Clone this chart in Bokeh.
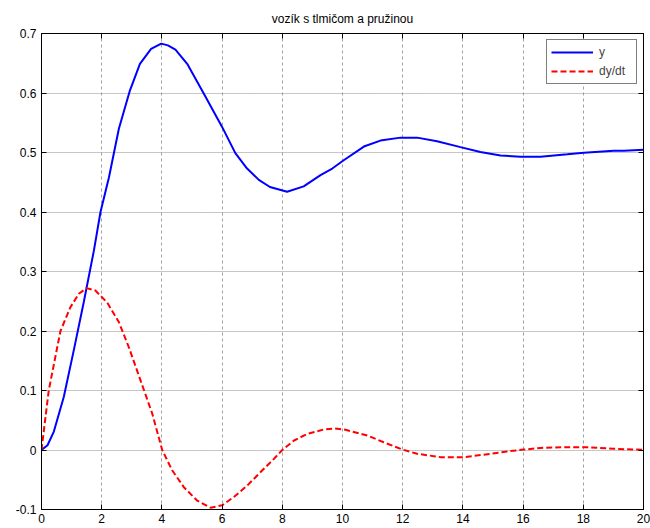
from bokeh.plotting import figure
from bokeh.models import LinearAxis, FixedTicker, Legend, LegendItem, Range1d
from bokeh.embed import file_html
from bokeh.resources import INLINE

# --- data ---
t_y = [0, 0.2, 0.41, 0.74, 1.07, 1.41, 1.74, 1.96, 2.24, 2.57, 2.93, 3.27, 3.64, 3.98,
       4.20, 4.45, 4.84, 5.39, 6.0, 6.44, 6.83, 7.22, 7.59, 8.16, 8.71, 9.27, 9.66,
       10.04, 10.71, 11.26, 11.93, 12.48, 13.14, 13.92, 14.58, 15.25, 15.91, 16.58,
       17.47, 18.02, 19.01, 19.35, 20.0]
y_vals = [0, 0.008, 0.031, 0.089, 0.167, 0.25, 0.335, 0.40, 0.458, 0.54, 0.603, 0.649,
          0.674, 0.683, 0.680, 0.673, 0.649, 0.599, 0.543, 0.499, 0.473, 0.454, 0.442,
          0.434, 0.443, 0.462, 0.473, 0.487, 0.510, 0.520, 0.525, 0.525, 0.519, 0.509,
          0.501, 0.495, 0.493, 0.493, 0.497, 0.4995, 0.503, 0.503, 0.5045]

t_dy = [0, 0.24, 0.63, 0.96, 1.24, 1.50, 1.79, 2.18, 2.57, 2.90, 3.29, 3.68, 4.01, 4.34,
        4.73, 5.17, 5.61, 6.0, 6.39, 6.83, 7.28, 7.72, 8.0, 8.39, 8.83, 9.38, 9.75,
        10.10, 10.82, 11.37, 11.98, 12.48, 13.26, 14.03, 14.92, 15.47, 16.02, 16.69,
        17.47, 18.13, 19.01, 20.0]
dy_vals = [0, 0.10, 0.20, 0.24, 0.2625, 0.272, 0.268, 0.248, 0.215, 0.173, 0.117, 0.061,
           0.0, -0.034, -0.0625, -0.085, -0.097, -0.093, -0.079, -0.060, -0.037, -0.015,
           0.0, 0.016, 0.027, 0.0345, 0.036, 0.034, 0.0244, 0.013, 0.001, -0.0064,
           -0.012, -0.012, -0.0064, -0.0025, 0.0008, 0.0037, 0.0047, 0.0047, 0.002, 0.0003]

x_ticks = [0, 2, 4, 6, 8, 10, 12, 14, 16, 18, 20]
y_ticks = [-0.1, 0, 0.1, 0.2, 0.3, 0.4, 0.5, 0.6, 0.7]
y_tick_labels = ["-0.1", "0", "0.1", "0.2", "0.3", "0.4", "0.5", "0.6", "0.7"]
title_text = "vozík s tlmičom a pružinou"
series_labels = ["y", "dy/dt"]

FONT = "Liberation Sans"

p = figure(width=650, height=528, x_range=Range1d(0, 20), y_range=Range1d(-0.1, 0.7),
           output_backend="svg", toolbar_location=None,
           min_border_left=41, min_border_right=7, min_border_top=33, min_border_bottom=19)

p.title.text = title_text
p.title.align = "center"
p.title.text_font = FONT
p.title.text_font_size = "12px"
p.title.text_font_style = "normal"
p.title.text_color = "black"
p.title.standoff = 16

p.outline_line_color = "black"
p.outline_line_width = 1
p.background_fill_color = "white"
p.border_fill_color = "white"

# axes
for ax in p.xaxis:
    ax.ticker = FixedTicker(ticks=x_ticks)
for ax in p.yaxis:
    ax.ticker = FixedTicker(ticks=y_ticks)
    ax.major_label_overrides = {k: v for k, v in zip(y_ticks, y_tick_labels)}

for ax in list(p.xaxis) + list(p.yaxis):
    ax.major_tick_in = 5
    ax.major_tick_out = 0
    ax.minor_tick_in = 0
    ax.minor_tick_out = 0
    ax.axis_line_color = "black"
    ax.major_tick_line_color = "black"
    ax.major_label_text_font = FONT
    ax.major_label_text_font_size = "12px"
    ax.major_label_text_color = "black"
p.xaxis.major_label_standoff = 4
p.yaxis.major_label_standoff = 5

# box axes (ticks only, empty labels)
right_ax = LinearAxis(ticker=FixedTicker(ticks=y_ticks),
                      major_label_overrides={k: "" for k in y_ticks})
top_ax = LinearAxis(ticker=FixedTicker(ticks=x_ticks),
                    major_label_overrides={k: "" for k in x_ticks})
for ax in (right_ax, top_ax):
    ax.major_tick_in = 5
    ax.major_tick_out = 0
    ax.minor_tick_in = 0
    ax.minor_tick_out = 0
    ax.major_label_standoff = 0
    ax.axis_line_color = "black"
    ax.major_tick_line_color = "black"
p.add_layout(right_ax, "right")
p.add_layout(top_ax, "above")

# grids
p.xgrid.ticker = FixedTicker(ticks=x_ticks)
p.ygrid.ticker = FixedTicker(ticks=y_ticks)
p.xgrid.grid_line_color = "#a0a0a0"
p.xgrid.grid_line_dash = "3 3"
p.ygrid.grid_line_color = "#8c8c8c"
p.ygrid.grid_line_dash = "1 1"

r1 = p.line(t_y, y_vals, line_color="#0000ff", line_width=2)
r2 = p.line(t_dy, dy_vals, line_color="#ff0000", line_width=2, line_dash="6 3")

legend = Legend(items=[LegendItem(label=series_labels[0], renderers=[r1]),
                       LegendItem(label=series_labels[1], renderers=[r2])],
                location="top_right")
legend.margin = 6
legend.padding = 4
legend.spacing = 3
legend.glyph_width = 42
legend.glyph_height = 16
legend.label_height = 16
legend.label_width = 33
legend.label_standoff = 6
legend.label_text_font = FONT
legend.label_text_font_size = "12px"
legend.border_line_color = "black"
legend.border_line_width = 1
legend.background_fill_alpha = 1
p.add_layout(legend)

open("out.html", "w").write(file_html(p, INLINE))
